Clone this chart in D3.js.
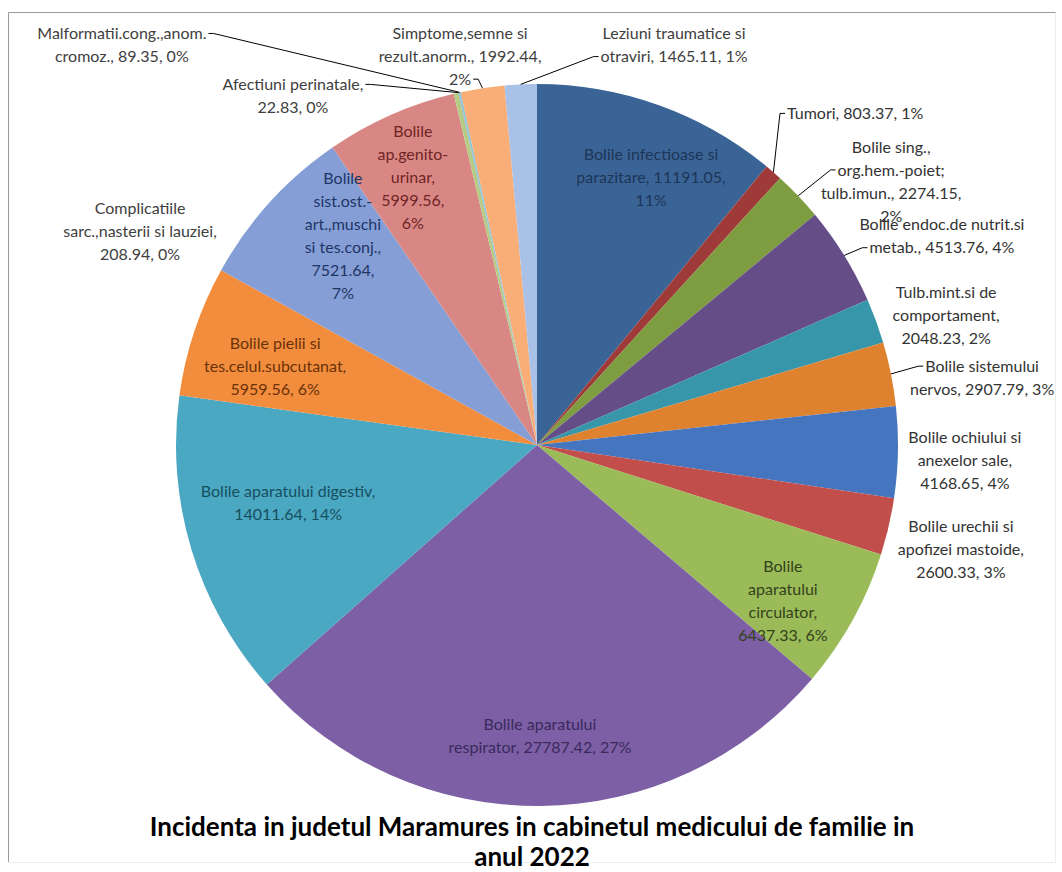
<!DOCTYPE html>
<html><head><meta charset="utf-8">
<script src="https://cdn.jsdelivr.net/npm/d3@7"></script>
<style>body{margin:0;background:#fff}svg{display:block}</style>
</head><body>
<svg id="c" width="1062" height="872"></svg>
<script>
// ---- data ----
const categories = [
  "Bolile infectioase si parazitare",
  "Tumori",
  "Bolile sing., org.hem.-poiet; tulb.imun.",
  "Bolile endoc.de nutrit.si metab.",
  "Tulb.mint.si de comportament",
  "Bolile sistemului nervos",
  "Bolile ochiului si anexelor sale",
  "Bolile urechii si apofizei mastoide",
  "Bolile aparatului circulator",
  "Bolile aparatului respirator",
  "Bolile aparatului digestiv",
  "Bolile pielii si tes.celul.subcutanat",
  "Bolile sist.ost.-art.,muschi si tes.conj.",
  "Bolile ap.genito-urinar",
  "Complicatiile sarc.,nasterii si lauziei",
  "Afectiuni perinatale",
  "Malformatii.cong.,anom. cromoz.",
  "Simptome,semne si rezult.anorm.",
  "Leziuni traumatice si otraviri"
];
const values = [11191.05, 803.37, 2274.15, 4513.76, 2048.23, 2907.79, 4168.65, 2600.33,
  6437.33, 27787.42, 14011.64, 5959.56, 7521.64, 5999.56, 208.94, 22.83, 89.35, 1992.44, 1465.11];
const titleLines = ["Incidenta in judetul Maramures in cabinetul medicului de familie in", "anul 2022"];

// ---- styles / layout ----
const colors = ["#3B6496","#9E3B39","#7E9C40","#654D88","#3896AA","#DF8230",
  "#4675C0","#C24E4B","#9BBB59","#7C5FA5","#4BA8C3","#F28D3E",
  "#859FD6","#D98784","#B5CC85","#A28FC0","#85C7D9","#F9AE78","#A9C1E6"];
const textColors = ["#1d3557","#333","#333","#333","#333","#333","#333","#333",
  "#33421a","#3a2a5c","#16505f","#6b3208","#1f3566","#6e2524","#404040","#404040","#404040","#404040","#404040"];
// label layout: line cuts, radius factor, angle offset (deg), leader {side, line}
const layout = [
  {cuts:["parazitare","11%"], r:0.807, da:3.3},
  {cuts:[], r:1.273, da:2.9, lead:{side:"l", line:0}},
  {cuts:["org.","tulb.","2%"], r:1.223, da:7, lead:{side:"l", line:1}},
  {cuts:["metab."], r:1.262, da:4.4, lead:{side:"l", line:1}},
  {cuts:["comportament","2048"], r:1.189, da:2.5},
  {cuts:["nervos"], r:1.247, da:2.75, lead:{side:"l", line:0}},
  {cuts:["anexelor","4168"], r:1.186, da:0.9},
  {cuts:["apofizei","2600"], r:1.209, da:0.7},
  {cuts:["aparatului","circulator","6437"], r:0.807, da:3.4},
  {cuts:["respirator"], r:0.806, da:0},
  {cuts:["14011"], r:0.708, da:3.7},
  {cuts:["tes.","5959"], r:0.757, da:-1.8},
  {cuts:["sist.","art.","si tes","7521","7%"], r:0.79, da:4.9},
  {cuts:["ap.","urinar","5999","6%"], r:0.816, da:-1},
  {cuts:["sarc.","208"], r:1.248, da:-48.8},
  {cuts:["22.83"], r:1.18, da:-22.4, lead:{side:"r", line:0}},
  {cuts:["cromoz"], r:1.597, da:-33.7, lead:{side:"r", line:0}},
  {cuts:["rezult","2%"], r:1.098, da:-2.5, lead:{side:"r", line:2}},
  {cuts:["otraviri"], r:1.171, da:21.5, lead:{side:"l", line:1}}
];

const W = 1062, H = 872, cx = 537, cy = 445, R = 361;
const FONT = "Lato, 'Open Sans', sans-serif";
const LH = 23;

const svg = d3.select("#c");
// frame
svg.append("line").attr("x1",8.5).attr("y1",12.5).attr("x2",1056).attr("y2",12.5).attr("stroke","#9a9a9a");
svg.append("line").attr("x1",8.5).attr("y1",12.5).attr("x2",8.5).attr("y2",862).attr("stroke","#9a9a9a");
svg.append("line").attr("x1",1055.5).attr("y1",12.5).attr("x2",1055.5).attr("y2",862).attr("stroke","#ececec");
svg.append("line").attr("x1",8.5).attr("y1",862.5).attr("x2",1056).attr("y2",862.5).attr("stroke","#ececec");

const total = d3.sum(values);
const data = categories.map((c,i)=>({name:c, value:values[i], i}));
const pie = d3.pie().value(d=>d.value).sort(null).startAngle(0).endAngle(2*Math.PI);
const arcs = pie(data);
const arc = d3.arc().innerRadius(0).outerRadius(R);

const g = svg.append("g").attr("transform",`translate(${cx},${cy})`);
g.selectAll("path").data(arcs).join("path")
  .attr("d", arc).attr("fill", d=>colors[d.index]);

function splitText(txt, cuts){
  const lines=[]; let start=0, from=0;
  cuts.forEach(c=>{
    const idx = txt.indexOf(c, from);
    lines.push(txt.slice(start, idx).trim());
    start = idx; from = idx + 1;
  });
  lines.push(txt.slice(start).trim());
  return lines;
}
function polar(a, r){ return [Math.sin(a)*r, -Math.cos(a)*r]; }

const lg = svg.append("g");
const leaderG = svg.append("g");
arcs.forEach(d=>{
  const L = layout[d.index];
  const pct = Math.round(d.value/total*100);
  const full = `${d.data.name}, ${d.value.toFixed(2)}, ${pct}%`;
  const lines = splitText(full, L.cuts);
  const mid = (d.startAngle + d.endAngle)/2;
  const [px, py] = polar(mid + L.da*Math.PI/180, L.r*R);
  const x = cx + px, y0 = cy + py - (lines.length-1)*LH/2;
  const t = lg.append("text").attr("font-family",FONT).attr("font-size",16)
    .attr("fill", textColors[d.index]).attr("text-anchor","middle");
  const spans = lines.map((s,k)=> t.append("tspan").attr("x",x).attr("y",y0+k*LH).attr("dy","0.35em").text(s));
  if (L.lead){
    const sp = spans[L.lead.line].node();
    const w = sp.getComputedTextLength();
    const ly = y0 + L.lead.line*LH;
    const [ex, ey] = polar(mid, R);
    const sx = cx+ex, sy = cy+ey;
    let tx, hx;
    if (L.lead.side==="l"){ tx = x - w/2 - 2; hx = tx - 5; }
    else { tx = x + w/2 + 2; hx = tx + 5; }
    leaderG.append("path").attr("fill","none").attr("stroke","#000").attr("stroke-width",1)
      .attr("d", d3.line()([[sx,sy],[hx,ly],[tx,ly]]));
  }
});

// title
svg.append("g").selectAll("text").data(titleLines).join("text")
  .attr("x", 532).attr("y",(d,i)=>827+i*30).attr("dy","0.35em")
  .attr("text-anchor","middle").attr("font-family",FONT).attr("font-weight","bold")
  .attr("font-size",26).attr("fill","#000").text(d=>d);
</script>
</body></html>
